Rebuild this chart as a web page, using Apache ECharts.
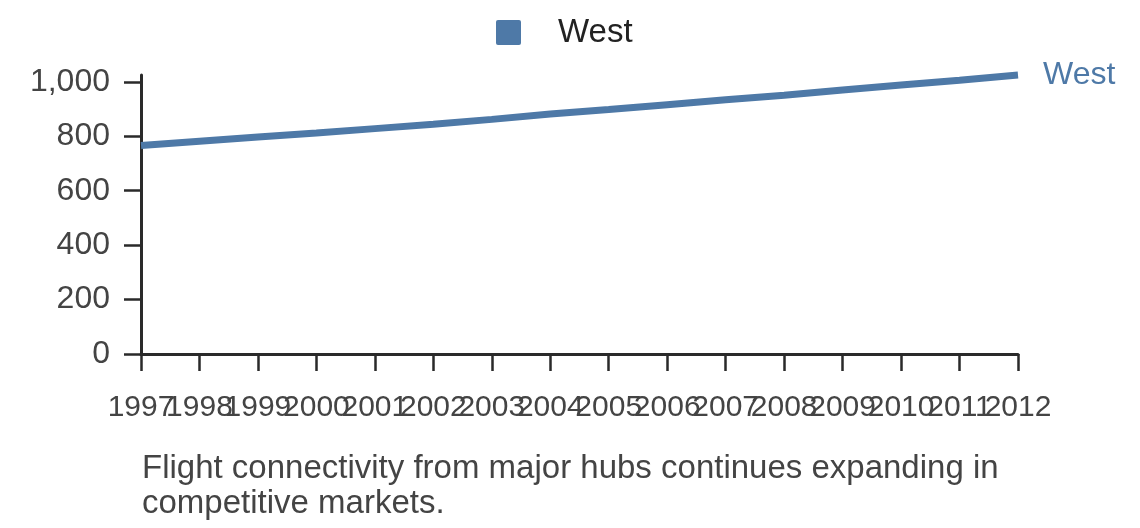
<!DOCTYPE html>
<html>
<head>
<meta charset="utf-8">
<script src="https://cdn.jsdelivr.net/npm/echarts@6/dist/echarts.min.js"></script>
<style>
html,body{margin:0;padding:0;background:#fff;}
#chart{width:1140px;height:528px;}
</style>
</head>
<body>
<div id="chart"></div>
<script>
const years = ['1997','1998','1999','2000','2001','2002','2003','2004','2005','2006','2007','2008','2009','2010','2011','2012'];
const westValues = [766, 782, 797, 812, 828, 844, 862, 882, 898, 916, 934, 951, 970, 988, 1006, 1025];
const yTickValues = [0, 200, 400, 600, 800, 1000];
const seriesName = 'West';
const caption = 'Flight connectivity from major hubs continues expanding in\ncompetitive markets.';

const FONT = '"Liberation Sans", Arial, sans-serif';
const chart = echarts.init(document.getElementById('chart'), null, {renderer: 'canvas'});
chart.setOption({
  animation: false,
  backgroundColor: '#fff',
  color: ['#4e79a7'],
  textStyle: {fontFamily: FONT},
  legend: {
    left: 491, top: 11,
    itemWidth: 25, itemHeight: 25,
    icon: 'path://M2,0 L23,0 Q25,0 25,2 L25,23 Q25,25 23,25 L2,25 Q0,25 0,23 L0,2 Q0,0 2,0 Z',
    data: [seriesName],
    textStyle: {fontSize: 33, color: '#222', fontFamily: FONT, padding: [0, 0, 0, 32]}
  },
  title: {
    text: caption,
    left: 137, top: 446,
    textStyle: {fontSize: 33, fontWeight: 'normal', color: '#444', fontFamily: FONT, lineHeight: 35}
  },
  grid: {left: 141, right: 122, top: 75, bottom: 174},
  xAxis: {
    type: 'category',
    data: years,
    boundaryGap: false,
    axisLine: {lineStyle: {color: '#2a2a2a', width: 3}},
    axisTick: {alignWithLabel: true, length: 17, lineStyle: {color: '#2a2a2a', width: 2.5}},
    axisLabel: {interval: 0, margin: 39, fontSize: 30, color: '#444', fontFamily: FONT, hideOverlap: false}
  },
  yAxis: {
    type: 'value',
    min: 0,
    max: 'dataMax',
    splitLine: {show: false},
    axisLine: {show: true, lineStyle: {color: '#2a2a2a', width: 3}},
    axisTick: {show: true, length: 17, customValues: yTickValues, lineStyle: {color: '#2a2a2a', width: 2.5}},
    axisLabel: {
      customValues: yTickValues, margin: 31, fontSize: 32, color: '#444', fontFamily: FONT,
      formatter: v => v.toLocaleString('en-US')
    }
  },
  series: [{
    name: seriesName,
    type: 'line',
    data: westValues,
    showSymbol: false,
    symbol: 'none',
    clip: false,
    lineStyle: {width: 7, color: '#4e79a7'},
    endLabel: {show: true, formatter: '{a}', color: '#4e79a7', fontSize: 32, distance: 25, fontFamily: FONT}
  }]
});
</script>
</body>
</html>
